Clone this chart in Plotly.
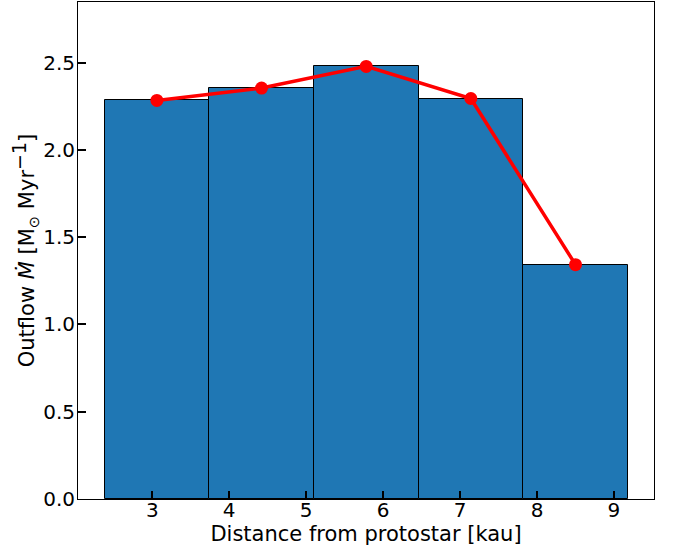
import plotly.graph_objects as go

# Radial bins (kau) and outflow rates (M_sun / Myr)
bin_edges = [2.38, 3.74, 5.10, 6.46, 7.82, 9.18]
outflow_rate = [2.284, 2.355, 2.479, 2.295, 1.343]
x_ticks = [3, 4, 5, 6, 7, 8, 9]
y_ticks = [0.0, 0.5, 1.0, 1.5, 2.0, 2.5]

centers = [(a + b) / 2 for a, b in zip(bin_edges[:-1], bin_edges[1:])]
widths = [b - a for a, b in zip(bin_edges[:-1], bin_edges[1:])]

title_font = dict(family="DejaVu Sans", size=21, color="black")
tick_font = dict(family="DejaVu Sans", size=20, color="black")

fig = go.Figure()
fig.add_trace(go.Bar(
    x=centers, y=outflow_rate, width=widths,
    marker=dict(color="#1f77b4", line=dict(color="black", width=1)),
    showlegend=False,
))
fig.add_trace(go.Scatter(
    x=centers, y=outflow_rate, mode="lines+markers",
    line=dict(color="red", width=3.5),
    marker=dict(color="red", size=13),
    showlegend=False,
))

axis_common = dict(
    showline=True, linecolor="black", linewidth=1, mirror=True,
    ticks="inside", ticklen=8, tickwidth=2, tickcolor="black",
    showgrid=False, zeroline=False, tickfont=tick_font,
)
fig.update_xaxes(
    range=[2.035, 9.52], tickvals=x_ticks, ticktext=[str(t) for t in x_ticks],
    ticklabelstandoff=-7,
    title=dict(text="Distance from protostar [kau]", font=title_font, standoff=2),
    **axis_common,
)
fig.update_yaxes(
    range=[0, 2.848], tickvals=y_ticks, ticktext=[f"{t:.1f}" for t in y_ticks],
    ticklabelstandoff=-2,
    title=dict(
        text=("Outflow <i>Ṁ</i> [M<sub>⊙</sub>\u00a0Myr"
              "<sup><span style='font-size:19px'>−1</span></sup>]"),
        font=title_font, standoff=2,
    ),
    **axis_common,
)
fig.update_layout(
    width=674, height=550,
    margin=dict(l=78, r=20, t=1.5, b=51),
    plot_bgcolor="white", paper_bgcolor="white",
    font=title_font, bargap=0,
)
fig.write_html("out.html")
